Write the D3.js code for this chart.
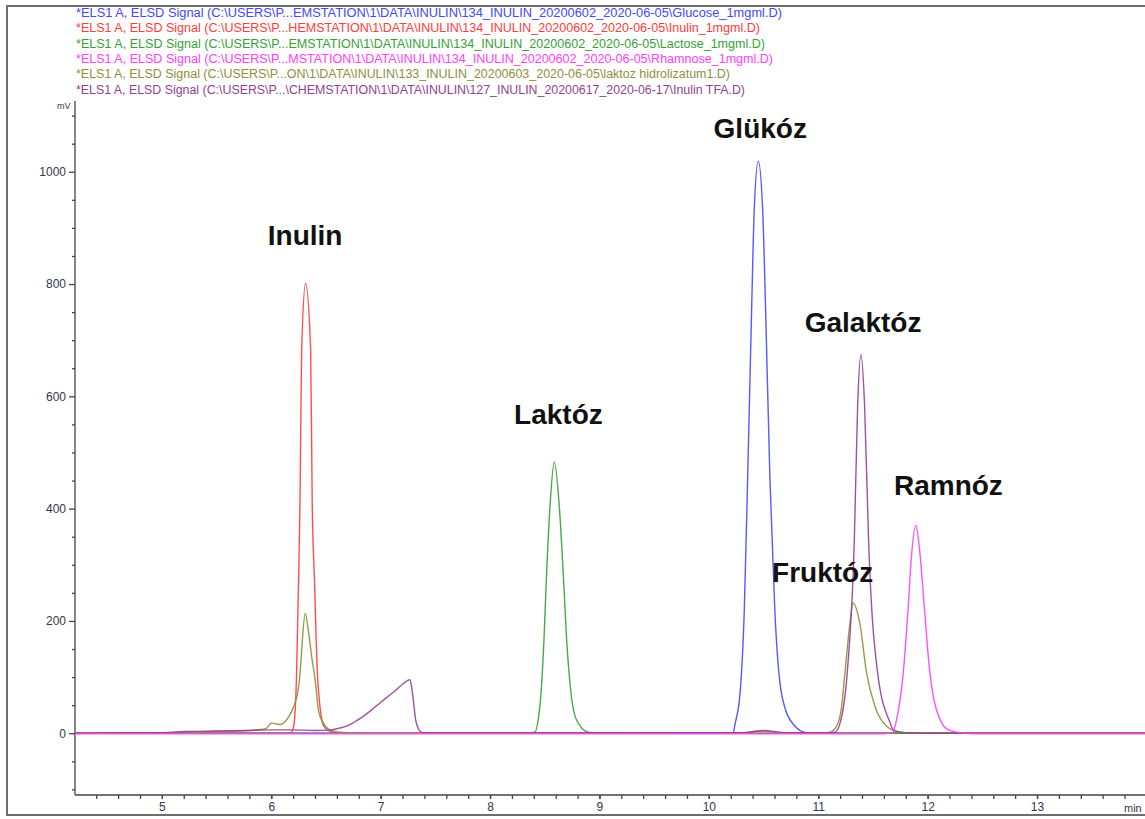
<!DOCTYPE html>
<html>
<head>
<meta charset="utf-8">
<script src="https://cdn.jsdelivr.net/npm/d3@7"></script>
<style>
  body { margin: 0; background: #fff; }
  svg { display: block; }
</style>
</head>
<body>
<svg id="chart" width="1145" height="819"></svg>
<script>
// chromatogram traces, [time (min), signal (mV)]
var glucose = [[4.2,0],[10.1,0],[10.223,1],[10.239,16],[10.285,70],[10.324,219],[10.355,456],[10.391,754],
  [10.415,932],[10.452,1019],[10.492,932],[10.519,754],[10.558,456],[10.603,219],[10.665,70],
  [10.771,16],[10.894,1],[11.0,0],[14,0]];

var inulin = [[4.2,0],[6.15,0],[6.18,1],[6.205,12.5],[6.23,95],[6.25,273],[6.263,416],[6.278,683],
  [6.314,801],[6.36,683],[6.374,416],[6.395,273],[6.425,95],[6.48,12.5],[6.53,4],[6.6,0],[14,0]];

var lactose = [[4.2,0],[8.3,0],[8.41,2],[8.44,24],[8.468,77],[8.493,167],[8.517,285],[8.548,404],
  [8.587,483],[8.633,404],[8.669,285],[8.70,167],[8.737,77],[8.79,24],[8.898,2],[9.0,0.5],[9.2,0],[14,0]];

var rhamnose = [[4.2,-1],[11.6,-1],[11.68,1],[11.71,18.5],[11.777,107.5],[11.823,226],[11.85,310],
  [11.893,370],[11.93,320],[11.969,226],[12.021,107.5],[12.128,18.5],[12.2,5],[12.3,1],[12.4,-1],[14,-1]];

var hydrolysate = [[4.2,0],[5.0,1],[5.5,3],[5.8,5],[5.95,8],[5.985,15],[6.004,18.5],[6.03,17],
  [6.08,15.5],[6.141,24],[6.186,39],[6.217,54],[6.247,78],[6.271,126],[6.287,173],[6.311,214],
  [6.338,184],[6.369,137],[6.408,84],[6.43,42],[6.475,18.5],[6.567,3.5],[6.7,1],[7.0,0],
  [10.3,0],[10.42,3],[10.5,4],[10.6,2],[10.7,0],[11.0,0.5],[11.107,2],[11.168,12.5],[11.214,48],
  [11.244,107.5],[11.29,196],[11.317,232],[11.38,196],[11.442,107.5],[11.518,48],[11.625,12.5],
  [11.746,2],[11.85,0.5],[12.0,0],[14,0]];

var inulinTFA = [[4.2,0],[5.0,1],[5.2,3],[5.5,4],[5.8,5],[6.0,6],[6.2,6],[6.4,5],[6.55,6],[6.62,9],
  [6.689,12.5],[6.76,20],[6.841,30],[6.92,42],[6.994,54],[7.07,66],[7.146,78],[7.207,88.5],
  [7.268,95.5],[7.285,80],[7.298,60],[7.32,24],[7.34,10],[7.36,3.5],[7.4,1],[7.5,0.5],
  [10.3,1],[10.45,4],[10.52,5],[10.6,3],[10.7,1],[11.1,0.5],[11.153,2],[11.2,18.5],[11.265,107.5],
  [11.33,345],[11.36,582],[11.39,674],[11.424,582],[11.46,345],[11.543,107.5],[11.657,18.5],
  [11.686,6],[11.75,2],[11.85,0.5],[12.0,0],[14,0]];

var legendLines = [
  "*ELS1 A, ELSD Signal (C:\\USERS\\P...EMSTATION\\1\\DATA\\INULIN\\134_INULIN_20200602_2020-06-05\\Glucose_1mgml.D)",
  "*ELS1 A, ELSD Signal (C:\\USERS\\P...HEMSTATION\\1\\DATA\\INULIN\\134_INULIN_20200602_2020-06-05\\Inulin_1mgml.D)",
  "*ELS1 A, ELSD Signal (C:\\USERS\\P...EMSTATION\\1\\DATA\\INULIN\\134_INULIN_20200602_2020-06-05\\Lactose_1mgml.D)",
  "*ELS1 A, ELSD Signal (C:\\USERS\\P...MSTATION\\1\\DATA\\INULIN\\134_INULIN_20200602_2020-06-05\\Rhamnose_1mgml.D)",
  "*ELS1 A, ELSD Signal (C:\\USERS\\P...ON\\1\\DATA\\INULIN\\133_INULIN_20200603_2020-06-05\\laktoz hidrolizatum1.D)",
  "*ELS1 A, ELSD Signal (C:\\USERS\\P...\\CHEMSTATION\\1\\DATA\\INULIN\\127_INULIN_20200617_2020-06-17\\Inulin TFA.D)"
];
var legendWidths = [706, 684, 689, 697, 654, 669];

var peakNames = ["Inulin", "Laktóz", "Glükóz", "Galaktóz", "Ramnóz", "Fruktóz"];
var peakTimes = [6.31, 8.625, 10.47, 11.41, 12.19, 11.04];
var peakLabelValues = [870, 550, 1060, 715, 425, 270];

var xMajor = [5, 6, 7, 8, 9, 10, 11, 12, 13];
var yMajor = [0, 200, 400, 600, 800, 1000];

(function () {
  'use strict';

  var svg = d3.select('#chart');

  var left = 75, right = 1145, top = 101, bottom = 795;

  var x = d3.scaleLinear().domain([4.206, 13.987]).range([left, right]);
  var y = d3.scaleLinear().domain([-110, 1126]).range([bottom, top]);

  var series = [
    { data: glucose, color: '#4646ff' },
    { data: inulin, color: '#ff3b3b' },
    { data: lactose, color: '#36a036' },
    { data: hydrolysate, color: '#8f8f3c' },
    { data: inulinTFA, color: '#923f92' },
    { data: rhamnose, color: '#ff40ff' }
  ];

  // outer frame
  svg.append('rect')
    .attr('x', 7).attr('y', 6)
    .attr('width', 1160).attr('height', 809)
    .attr('fill', 'none')
    .attr('stroke', '#6e6e6e')
    .attr('stroke-width', 2);

  // legend lines, one per trace
  svg.selectAll('text.legend')
    .data(legendLines)
    .enter().append('text')
    .attr('class', 'legend')
    .attr('x', 76)
    .attr('y', function (d, i) { return 17 + i * 15.3; })
    .attr('textLength', function (d, i) { return legendWidths[i]; })
    .attr('lengthAdjust', 'spacingAndGlyphs')
    .style('font-family', '"Liberation Sans Narrow", "Arial Narrow", "Liberation Sans", sans-serif')
    .style('font-size', '12px')
    .style('fill', function (d, i) { return series[[0, 1, 2, 5, 3, 4][i]].color; })
    .text(function (d) { return d; });

  svg.append('defs').append('clipPath').attr('id', 'plot')
    .append('rect')
    .attr('x', left).attr('y', top)
    .attr('width', right - left).attr('height', bottom - top);

  // y axis
  var yMinor = d3.range(-100, 1101, 50).filter(function (v) { return yMajor.indexOf(v) < 0; });
  svg.append('g')
    .attr('transform', 'translate(' + left + ',0)')
    .call(d3.axisLeft(y).tickValues(yMinor).tickSize(3).tickFormat(''))
    .call(function (g) { g.select('.domain').remove(); });
  var yAxis = svg.append('g')
    .attr('transform', 'translate(' + left + ',0)')
    .call(d3.axisLeft(y).tickValues(yMajor).tickSize(6).tickPadding(3).tickFormat(d3.format('d')));
  yAxis.select('.domain').attr('d', 'M0,' + top + 'V' + bottom);

  // x axis
  var xTicks = d3.range(4.4, 13.95, 0.2);
  svg.append('g')
    .attr('transform', 'translate(0,' + bottom + ')')
    .call(d3.axisBottom(x).tickValues(xTicks).tickSize(4).tickFormat(''))
    .call(function (g) { g.select('.domain').remove(); });
  var xAxis = svg.append('g')
    .attr('transform', 'translate(0,' + bottom + ')')
    .call(d3.axisBottom(x).tickValues(xMajor).tickSize(4).tickPadding(3).tickFormat(d3.format('d')));
  xAxis.select('.domain').attr('d', 'M' + left + ',0H' + right);

  svg.selectAll('.tick text')
    .style('font-family', '"Liberation Sans", Arial, sans-serif')
    .style('font-size', '12px')
    .style('fill', '#33384a');
  svg.selectAll('.domain, .tick line')
    .attr('stroke', '#444')
    .attr('stroke-width', 1.3);

  svg.append('text')
    .attr('x', 57).attr('y', 109)
    .style('font-family', '"Liberation Sans", Arial, sans-serif')
    .style('font-size', '9px')
    .style('fill', '#33384a')
    .text('mV');

  svg.append('text')
    .attr('x', 1124).attr('y', 812)
    .style('font-family', '"Liberation Sans", Arial, sans-serif')
    .style('font-size', '11px')
    .style('fill', '#33384a')
    .text('min');

  // traces
  var line = d3.line()
    .x(function (d) { return x(d[0]); })
    .y(function (d) { return y(d[1]); })
    .curve(d3.curveMonotoneX);

  svg.append('g')
    .attr('clip-path', 'url(#plot)')
    .selectAll('path')
    .data(series)
    .enter().append('path')
    .attr('d', function (d) { return line(d.data); })
    .attr('fill', 'none')
    .attr('stroke', function (d) { return d.color; })
    .attr('stroke-width', 1.4)
    .attr('stroke-opacity', 0.9);

  // peak names
  svg.selectAll('text.peak')
    .data(peakNames)
    .enter().append('text')
    .attr('class', 'peak')
    .attr('x', function (d, i) { return x(peakTimes[i]); })
    .attr('y', function (d, i) { return y(peakLabelValues[i]); })
    .attr('text-anchor', 'middle')
    .style('font-family', '"Liberation Sans", Arial, sans-serif')
    .style('font-weight', 'bold')
    .style('font-size', '28px')
    .style('fill', '#111')
    .text(function (d) { return d; });
})();
</script>
</body>
</html>
